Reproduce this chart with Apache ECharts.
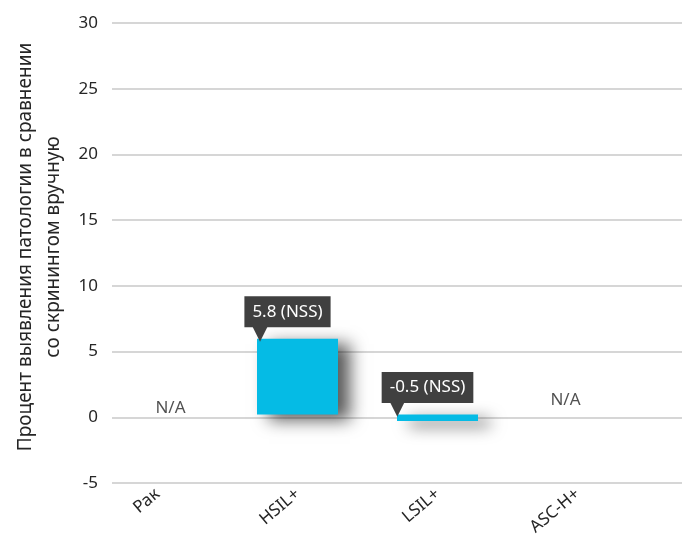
<!DOCTYPE html>
<html>
<head>
<meta charset="utf-8">
<script src="https://cdn.jsdelivr.net/npm/echarts@6/dist/echarts.min.js"></script>
<style>
html,body{margin:0;padding:0;background:#fff;}
#chart{width:686px;height:538px;}
</style>
</head>
<body>
<div id="chart"></div>
<script>
const categories = ['Рак', 'HSIL+', 'LSIL+', 'ASC-H+'];
const values = [null, 5.8, -0.5, null];
const significance = [null, 'NSS', 'NSS', null];
const naLabels = ['N/A', null, null, 'N/A'];
const yMin = -5, yMax = 30, yStep = 5;
const yTitle = 'Процент выявления патологии в сравнении\nсо скринингом вручную';

const FONT = '"Noto Sans", "Open Sans", sans-serif';
const TXT = '#262626';
const chart = echarts.init(document.getElementById('chart'), null, {renderer: 'canvas'});

const barData = values.map((v, i) => v === null ? null : {
  value: v,
  label: { formatter: '{box|' + v + ' (' + significance[i] + ')}\n{arr|▼}' }
});
const naData = naLabels.map((t, i) => t === null ? null : {
  value: 0,
  label: { formatter: t, offset: i === 0 ? [13, 4] : [-12, -4] }
});

chart.setOption({
  animation: false,
  textStyle: { fontFamily: FONT },
  grid: [
    { left: 112, right: 4, top: 23, bottom: 55 },
    { left: 87.5, right: 38.5, top: 23, bottom: 55 }
  ],
  xAxis: [
    { gridIndex: 0, type: 'category', data: categories, show: false },
    { gridIndex: 1, type: 'category', data: categories,
      axisLine: { show: false }, axisTick: { show: false },
      axisLabel: { rotate: 40, margin: 12, color: TXT, fontSize: 17, fontFamily: FONT } }
  ],
  yAxis: [
    { gridIndex: 0, type: 'value', min: yMin, max: yMax, interval: yStep,
      axisLine: { show: false }, axisTick: { show: false },
      axisLabel: { color: TXT, fontSize: 17, margin: 14, fontFamily: FONT },
      splitLine: { lineStyle: { color: '#c8c8c8', width: 1.5 } },
      name: yTitle, nameLocation: 'middle', nameRotate: 90, nameGap: 43,
      nameTextStyle: { color: TXT, fontSize: 19, lineHeight: 28, fontFamily: FONT, align: 'center',
        padding: [0, 0, 0, 12] } },
    { gridIndex: 1, type: 'value', min: yMin, max: yMax, interval: yStep, show: false,
      splitLine: { show: false } }
  ],
  series: [
    { type: 'bar', xAxisIndex: 1, yAxisIndex: 1, data: barData, barWidth: 81,
      itemStyle: { color: '#05bbe5', shadowColor: 'rgba(0,0,0,0.65)', shadowBlur: 16,
        shadowOffsetX: 12, shadowOffsetY: 5 },
      label: { show: true, position: 'top', distance: 1, offset: [-10, 0],
        rich: {
          box: { backgroundColor: '#404040', color: '#ffffff', fontSize: 17, lineHeight: 20,
            padding: [7, 8], fontFamily: FONT },
          arr: { color: '#404040', fontSize: 30, lineHeight: 16, align: 'left',
            padding: [0, 0, 0, 4], fontFamily: '"DejaVu Sans"' }
        } } },
    { type: 'scatter', xAxisIndex: 1, yAxisIndex: 1, data: naData, symbolSize: 0,
      label: { show: true, position: 'top', distance: 2, color: TXT, fontSize: 17, fontFamily: FONT } }
  ]
});
</script>
</body>
</html>
